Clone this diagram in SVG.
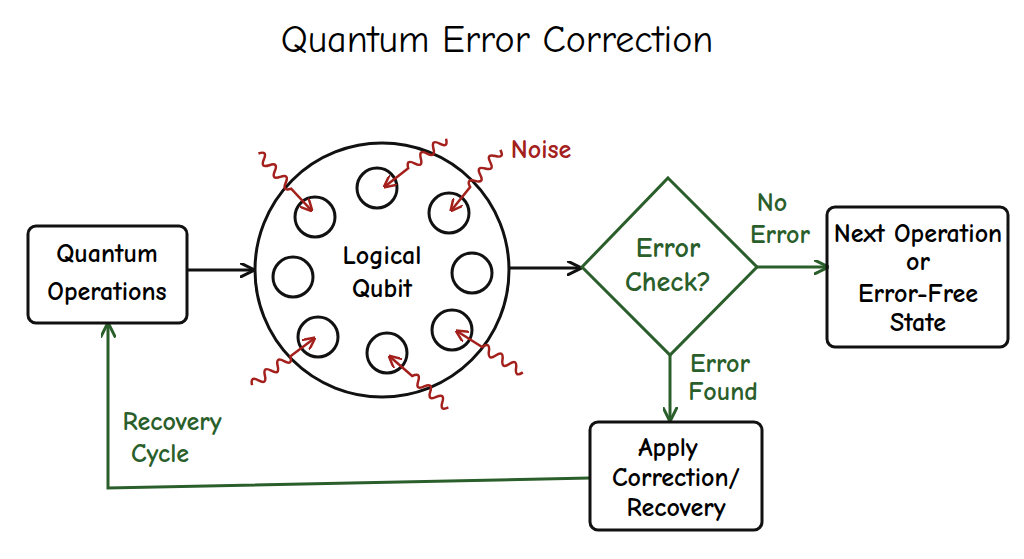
<svg xmlns="http://www.w3.org/2000/svg" width="1024" height="559" viewBox="0 0 1024 559">
<style>
text{font-family:"Comic Neue","Liberation Sans",sans-serif;font-size:26px;text-anchor:middle;font-weight:bold}
.k{fill:none;stroke:#111;stroke-width:3}
.g{fill:none;stroke:#2a5e2a;stroke-width:3}
.gt{fill:#2a5e2a}
.r{fill:none;stroke:#a3201c;stroke-width:2.5}
.q{fill:none;stroke:#111;stroke-width:3}
</style>
<defs>
<marker id="ak" viewBox="0 0 10 10" refX="9" refY="5" markerWidth="5" markerHeight="5" orient="auto"><path d="M0,0L10,5L0,10" fill="none" stroke="#111" stroke-width="2"/></marker>
<marker id="ag" viewBox="0 0 10 10" refX="9" refY="5" markerWidth="5" markerHeight="5" orient="auto"><path d="M0,0L10,5L0,10" fill="none" stroke="#2a5e2a" stroke-width="2"/></marker>
<marker id="ar" viewBox="0 0 10 10" refX="9" refY="5" markerWidth="5" markerHeight="5" orient="auto"><path d="M0,0L10,5L0,10" fill="none" stroke="#a3201c" stroke-width="2"/></marker>
<path id="wave" d="M-80,0 q4,-9 8,0 t8,0 t8,0 t8,0 t8,0 t8,0 L-2,0" class="r" marker-end="url(#ar)"/>
</defs>
<rect width="1024" height="559" fill="#fff"/>
<text x="497" y="52" style="font-size:38px;font-weight:normal">Quantum Error Correction</text>
<g id="connectors">
<path d="M187,270 L253,270" class="k" marker-end="url(#ak)"/>
<path d="M510,268 L580,268" class="k" marker-end="url(#ak)"/>
<path d="M757,267 L827,267" class="g" marker-end="url(#ag)"/>
<path d="M670,355 L670,420" class="g" marker-end="url(#ag)"/>
<path d="M590,478 L108,488 L108,324" class="g" marker-end="url(#ag)"/>
<text class="gt" x="772" y="211">No</text><text class="gt" x="780" y="243">Error</text>
<text class="gt" x="720" y="372">Error</text><text class="gt" x="723" y="400">Found</text>
<text class="gt" x="172" y="430">Recovery</text><text class="gt" x="160" y="462">Cycle</text>
</g>
<g id="quantum-ops"><rect x="28" y="226" width="159" height="97" rx="8" class="k"/>
<text x="107" y="262">Quantum</text><text x="107" y="300">Operations</text></g>
<g id="logical-qubit">
<circle cx="382" cy="270" r="127" class="k"/>
<g class="q"><circle cx="377" cy="188" r="20"/><circle cx="315" cy="217" r="20"/><circle cx="449" cy="213" r="20"/><circle cx="293" cy="277" r="20"/><circle cx="472" cy="273" r="20"/><circle cx="318" cy="337" r="20"/><circle cx="387" cy="353" r="20"/><circle cx="452" cy="330" r="20"/></g>
<text x="382" y="264">Logical</text><text x="382" y="297">Qubit</text>
</g>
<g id="noise">
<use href="#wave" transform="translate(313,212) rotate(47)"/>
<use href="#wave" transform="translate(383,188) rotate(142)"/>
<use href="#wave" transform="translate(450,212) rotate(129)"/>
<use href="#wave" transform="translate(316,337) rotate(-37)"/>
<use href="#wave" transform="translate(388,355) rotate(-139)"/>
<use href="#wave" transform="translate(455,330) rotate(-148)"/>
<text x="541" y="158" fill="#a3201c">Noise</text>
</g>
<g id="error-check"><path d="M668,178 L757,267 L670,355 L582,267 Z" class="g"/>
<text class="gt" x="668" y="257" style="font-size:28px">Error</text><text class="gt" x="668" y="291" style="font-size:28px">Check?</text></g>
<g id="next-op"><rect x="827" y="207" width="181" height="140" rx="8" class="k"/>
<text x="918" y="242">Next Operation</text><text x="918" y="270">or</text><text x="918" y="302">Error-Free</text><text x="918" y="331">State</text></g>
<g id="apply"><rect x="590" y="422" width="172" height="108" rx="8" class="k"/>
<text x="668" y="456">Apply</text><text x="676" y="486">Correction/</text><text x="676" y="516">Recovery</text></g>
</svg>
